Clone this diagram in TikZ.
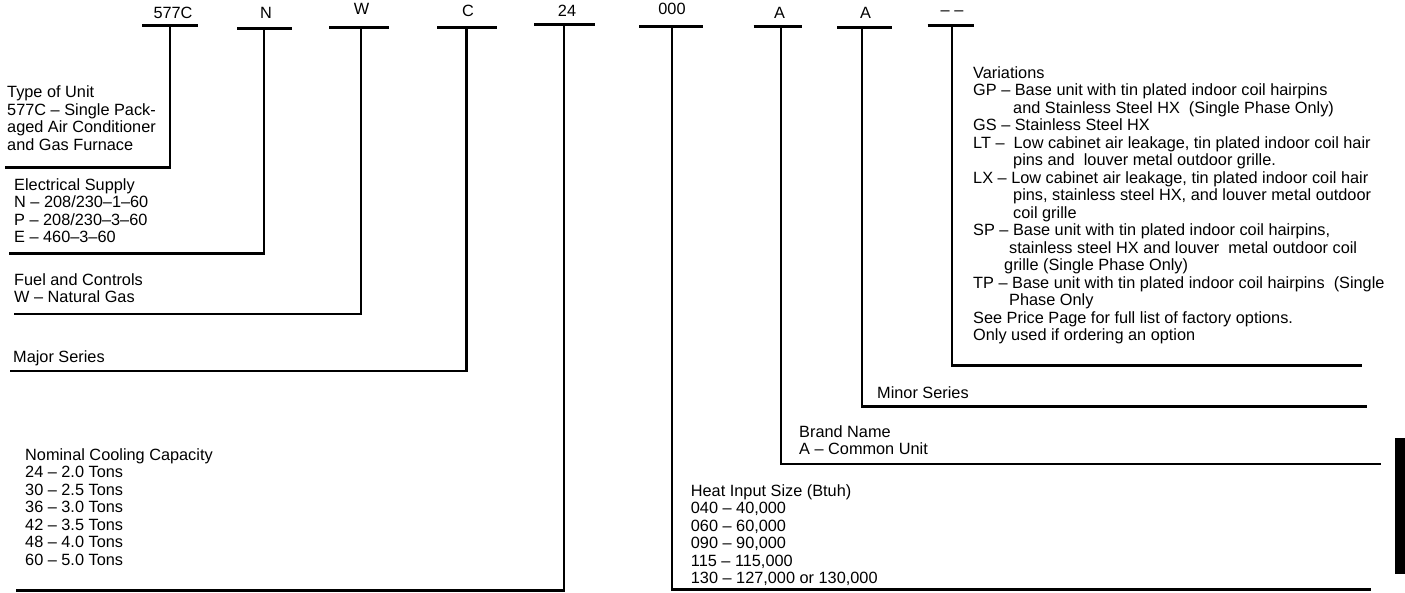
\documentclass[tikz,border=0pt]{standalone}
\usepackage{fontspec}
\setmainfont{Liberation Sans}
\usetikzlibrary{calc}
\begin{document}
\begin{tikzpicture}[x=1pt,y=-1pt,
  lbl/.style={font=\fontsize{16.3}{17.5}\selectfont, inner sep=0pt},
  blk/.style={lbl, anchor=north west, align=left},
  rule/.style={line width=2.6pt, line join=miter},
  bar/.style={line width=3pt}]
\useasboundingbox (0,0) rectangle (1405,592);

% code letters with their bars
\node[lbl] (k1) at (173,12.7) {577C};
\node[lbl] (k2) at (266,12.7) {N};
\node[lbl] (k3) at (361.6,9.3) {W};
\node[lbl] (k4) at (468,11) {C};
\node[lbl] (k5) at (567,11) {24};
\node[lbl] (k6) at (672,9.3) {000};
\node[lbl] (k7) at (779.6,12.7) {A};
\node[lbl] (k8) at (865.5,13.3) {A};
\node[lbl] (k9) at (952,12.7) {– –};

\coordinate (t1) at (170,25.3);
\coordinate (t2) at (264,28);
\coordinate (t3) at (361,27);
\coordinate (t4) at (466.5,27);
\coordinate (t5) at (564,24.7);
\coordinate (t6) at (672,26);
\coordinate (t7) at (781,26);
\coordinate (t8) at (862,27.3);
\coordinate (t9) at (952,25.3);

\draw[bar] ($(t1)+(-28,0)$) -- ($(t1)+(28,0)$);
\draw[bar] ($(t2)+(-27,0)$) -- ($(t2)+(28,0)$);
\draw[bar] ($(t3)+(-32,0)$) -- ($(t3)+(28,0)$);
\draw[bar] ($(t4)+(-29.5,0)$) -- ($(t4)+(30.5,0)$);
\draw[bar] ($(t5)+(-30,0)$) -- ($(t5)+(31,0)$);
\draw[bar] ($(t6)+(-33,0)$) -- ($(t6)+(31,0)$);
\draw[bar] ($(t7)+(-27.5,0)$) -- ($(t7)+(20.6,0)$);
\draw[bar] ($(t8)+(-25,0)$) -- ($(t8)+(30,0)$);
\draw[bar] ($(t9)+(-24.5,0)$) -- ($(t9)+(22,0)$);

% description blocks
\node[blk] (typ) at (7,85.5) {Type of Unit\\577C – Single Pack-\\aged Air Conditioner\\and Gas Furnace};
\node[blk] (elec) at (14,178) {Electrical Supply\\N – 208/230–1–60\\P – 208/230–3–60\\E – 460–3–60};
\node[blk] (fuel) at (14,273) {Fuel and Controls\\W – Natural Gas};
\node[blk] (major) at (13,350.5) {Major Series};
\node[blk] (nom) at (25,448) {Nominal Cooling Capacity\\24 – 2.0 Tons\\30 – 2.5 Tons\\36 – 3.0 Tons\\42 – 3.5 Tons\\48 – 4.0 Tons\\60 – 5.0 Tons};
\node[blk] (var) at (973,66) {Variations\\GP – Base unit with tin plated indoor coil hairpins\\\hspace*{40pt}and Stainless Steel HX\ \ (Single Phase Only)\\GS – Stainless Steel HX\\LT – \ Low cabinet air leakage, tin plated indoor coil hair\\\hspace*{40pt}pins and \ louver metal outdoor grille.\\LX – Low cabinet air leakage, tin plated indoor coil hair\\\hspace*{40pt}pins, stainless steel HX, and louver metal outdoor\\\hspace*{40pt}coil grille\\SP – Base unit with tin plated indoor coil hairpins,\\\hspace*{36pt}stainless steel HX and louver \ metal outdoor coil\\\hspace*{31pt}grille (Single Phase Only)\\TP – Base unit with tin plated indoor coil hairpins \ (Single\\\hspace*{36pt}Phase Only\\See Price Page for full list of factory options.\\Only used if ordering an option};
\node[blk] (minor) at (877,386.5) {Minor Series};
\node[blk] (brand) at (799,425) {Brand Name\\A – Common Unit};
\node[blk] (heat) at (690.7,484) {Heat Input Size (Btuh)\\040 – 40,000\\060 – 60,000\\090 – 90,000\\115 – 115,000\\130 – 127,000 or 130,000};

% underline end points
\coordinate (u1) at (5,167.3);
\coordinate (u2) at (9,253.3);
\coordinate (u3) at (14,314);
\coordinate (u4) at (10,371);
\coordinate (u5) at (16,590.5);
\coordinate (u6) at (1371,589.5);
\coordinate (u7) at (1380.7,464);
\coordinate (u8) at (1366.7,406.7);
\coordinate (u9) at (1362,365.5);

\draw[rule] (t1) |- (u1);
\draw[rule] (t2) |- (u2);
\draw[rule] (t3) |- (u3);
\draw[rule] (t4) |- (u4);
\draw[rule] (t5) |- (u5);
\draw[rule] (t6) |- (u6);
\draw[rule] (t7) |- (u7);
\draw[rule] (t8) |- (u8);
\draw[rule] (t9) |- (u9);

% page tab
\fill (1395,437.7) rectangle (1405,574);
\end{tikzpicture}
\end{document}
